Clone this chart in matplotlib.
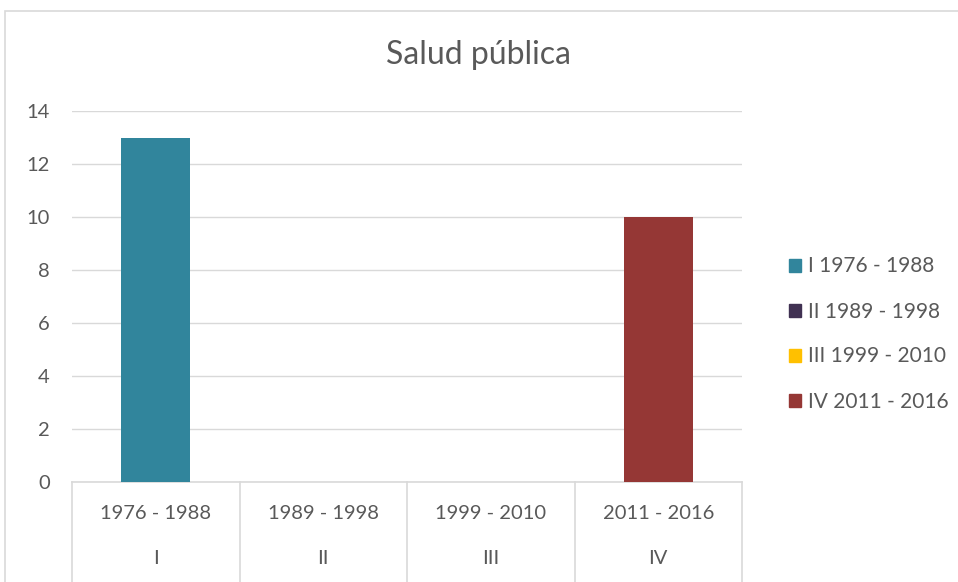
import numpy as np
import matplotlib
matplotlib.use("Agg")
import matplotlib.pyplot as plt
from matplotlib.patches import Rectangle, Patch

# data
periods = ["1976 - 1988", "1989 - 1998", "1999 - 2010", "2011 - 2016"]
stages = ["I", "II", "III", "IV"]
values = [13, 0, 0, 10]
colors = ["#31859C", "#403152", "#FFC000", "#953735"]
yticks = [0, 2, 4, 6, 8, 10, 12, 14]

txt = "#595959"
grid = "#D9D9D9"
plt.rcParams["font.family"] = ["Lato", "DejaVu Sans"]

fig = plt.figure(figsize=(9.58, 5.82), dpi=100)
ax = fig.add_axes([72 / 958, 1 - 482 / 582, 670 / 958, 371 / 582])

x = np.arange(len(values))
ax.bar(x, values, width=0.41, color=colors, zorder=3)

ax.set_xlim(-0.5, len(values) - 0.5)
ax.set_ylim(0, 14)
ax.set_yticks(yticks)
ax.tick_params(axis="y", length=0, labelsize=14.5, labelcolor=txt, pad=16)
ax.set_xticks([])
ax.grid(axis="y", color=grid, linewidth=1)
ax.set_axisbelow(True)
for s in ["top", "right", "left"]:
    ax.spines[s].set_visible(False)
ax.spines["bottom"].set_color(grid)
ax.spines["bottom"].set_linewidth(1.2)

# two-level category axis
tr = ax.get_xaxis_transform()
for i in range(len(values)):
    ax.text(x[i], -0.085, periods[i], transform=tr, ha="center", va="center",
            fontsize=14.5, color=txt)
    ax.text(x[i], -0.205, stages[i], transform=tr, ha="center", va="center",
            fontsize=14.5, color=txt)
for b in np.arange(-0.5, len(values), 1.0):
    ax.plot([b, b], [0, -0.27], transform=tr, color=grid, linewidth=1.2,
            clip_on=False)

fig.text(0.5, 1 - 55 / 582, "Salud pública", ha="center", va="center",
         fontsize=23, color=txt)

handles = [Patch(color=c) for c in colors]
labels = [s + " " + p for s, p in zip(stages, periods)]
fig.legend(handles, labels, loc="center left",
           bbox_to_anchor=(770 / 958, 1 - 334 / 582), frameon=False,
           fontsize=15, labelcolor=txt, handlelength=0.6, handleheight=0.6,
           handletextpad=0.3, labelspacing=1.2)

fig.patches.append(Rectangle((5 / 958, -0.1), 2, 1.1 - 11 / 582,
                             transform=fig.transFigure, fill=False,
                             edgecolor=grid, linewidth=1.2))

fig.savefig("out.png", dpi=100)
